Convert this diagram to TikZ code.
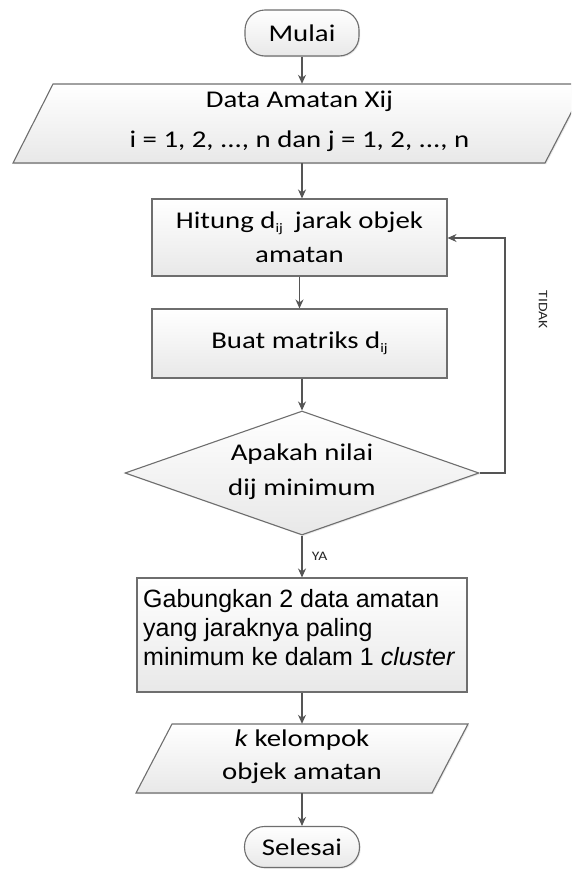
\documentclass[tikz,border=0pt]{standalone}
\usepackage{fontspec}
\setmainfont{Carlito}[FakeStretch=1.2]
\newfontfamily\arialfont{Liberation Sans}
\usetikzlibrary{shapes.geometric,arrows.meta,calc,shadows}
\definecolor{edge}{HTML}{6E6E6E}
\definecolor{lnk}{HTML}{555555}
\begin{document}
\begin{tikzpicture}[x=1pt,y=-1pt,
  shapefill/.style={draw=edge, line width=1.1pt, top color=white, bottom color=black!9,
    drop shadow={opacity=0.18, shadow xshift=1.2pt, shadow yshift=-1.2pt}},
  termbox/.style={shapefill, rounded corners=20pt, minimum width=114pt, inner sep=0pt,
    font=\fontsize{24}{26}\selectfont},
  procbox/.style={shapefill, rectangle, minimum width=295pt, inner sep=0pt, align=center,
    font=\fontsize{24}{34}\selectfont},
  decbox/.style={shapefill, diamond, minimum width=354pt, minimum height=124pt, inner sep=0pt},
  iotext/.style={inner sep=0pt, align=center},
  link/.style={draw=lnk, line width=1.1pt, -{Stealth[length=9pt,width=8pt]}},
  smalllab/.style={font=\fontsize{13}{14}\selectfont, text=black!85}
]
\useasboundingbox (0,0) rectangle (571,870);
\clip (0,0) rectangle (571,870);

% terminals
\node[termbox, minimum height=46pt] (start) at (302,33) {Mulai};
\node[termbox, minimum height=41pt, minimum width=115pt] (stop) at (302,847) {Selesai};

% input parallelogram
\path[shapefill] (53,84) -- (586,84) -- (545,163) -- (13,163) -- cycle;
\node[iotext, minimum width=480pt, minimum height=79pt] (data) at (302,123.5) {};
\node[iotext, font=\fontsize{24}{40}\selectfont] at (299.5,121) {Data Amatan Xij\\ i = 1, 2, ..., n dan j = 1, 2, ..., n};

% process boxes
\node[procbox, minimum height=77pt] (hitung) at (299.5,237.5) {Hitung d{\fontsize{13}{13}\selectfont\raisebox{-4pt}{ij}}\hspace{12pt}jarak objek\\amatan};
\node[procbox, minimum height=69pt] (buat) at (299.5,343.5) {Buat matriks d{\fontsize{13}{13}\selectfont\raisebox{-4pt}{ij}}};

% decision
\node[decbox] (dec) at (302,473) {};
\node[iotext, font=\fontsize{24}{35}\selectfont] at (302,472) {Apakah nilai\\dij minimum};

% merge box
\node[shapefill, rectangle, minimum width=330pt, minimum height=114pt, inner sep=0pt] (gab) at (302,635) {};
\node[anchor=north west, inner sep=0pt, align=left, font=\arialfont\fontsize{25}{29}\selectfont]
  at (143,589) {Gabungkan 2 data amatan\\yang jaraknya paling\\minimum ke dalam 1 \textit{cluster}};

% output parallelogram
\path[shapefill] (172,724) -- (468,724) -- (432,793) -- (136,793) -- cycle;
\node[iotext, minimum width=262pt, minimum height=69pt] (hasil) at (302,758.5) {};
\node[iotext, font=\fontsize{24}{33}\selectfont] at (302,757) {\textit{k} kelompok\\objek amatan};

% connectors
\draw[link] (start.south) -- (data.north);
\draw[link] (data.south) -- (data.south |- hitung.north);
\draw[link] (hitung.south) -- (buat.south |- buat.north);
\draw[link] (buat.south -| dec.north) -- (dec.north);
\draw[link] (dec.south) -- node[smalllab, right=6pt, pos=0.5] {YA} (gab.north);
\draw[link] (gab.south) -- (hasil.north);
\draw[link] (hasil.south) -- (stop.north);
\coordinate (loopA) at (505,473);
\coordinate (loopB) at (505,238);
\draw[link] (dec.east) -- (loopA) -- (loopB) -- (hitung.east |- loopB);
\node[smalllab, rotate=-90] (tidak) at (543,310) {TIDAK};
\end{tikzpicture}
\end{document}
